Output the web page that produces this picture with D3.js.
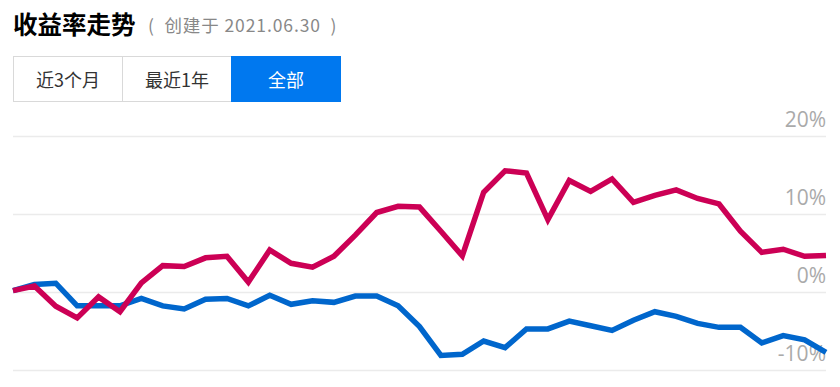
<!DOCTYPE html>
<html>
<head>
<meta charset="utf-8">
<script src="https://cdn.jsdelivr.net/npm/d3@7"></script>
<style>
  body { margin: 0; background: #fff; font-family: "Noto Sans CJK SC", "Noto Sans", sans-serif; }
</style>
</head>
<body>
<script>
// Daten
var tabs = ["近3个月", "最近1年", "全部"];
var activeTab = 2;
var yTicks = [-10, 0, 10, 20];
var fundReturn = [0.2, 0.8, -1.8, -3.3, -0.6, -2.5, 1.2, 3.4, 3.3, 4.4,
  4.6, 1.3, 5.4, 3.7, 3.2, 4.6, 7.3, 10.2, 11.0, 10.9,
  7.8, 4.65, 12.8, 15.55, 15.25, 9.3, 14.3, 12.9, 14.5, 11.5,
  12.4, 13.1, 12.0, 11.3, 7.8, 5.1, 5.5, 4.6, 4.7];
var benchReturn = [0.2, 1.0, 1.15, -1.75, -1.75, -1.75, -0.8, -1.75, -2.15, -0.9,
  -0.8, -1.75, -0.4, -1.55, -1.1, -1.3, -0.5, -0.5, -1.75, -4.4,
  -8.1, -7.95, -6.25, -7.1, -4.7, -4.7, -3.7, -4.3, -4.9, -3.6,
  -2.5, -3.1, -4.0, -4.5, -4.5, -6.5, -5.55, -6.1, -7.7];

var W = 840, H = 387;
var svg = d3.select("body").append("svg")
  .attr("width", W)
  .attr("height", H);

// Titel
svg.append("text")
  .attr("x", 13).attr("y", 34)
  .attr("font-size", "24.5px").attr("font-weight", "bold")
  .attr("fill", "#000")
  .text("收益率走势");

svg.append("text")
  .attr("x", 148).attr("y", 32)
  .attr("font-size", "17.5px")
  .attr("letter-spacing", "0.9px")
  .attr("fill", "#888")
  .attr("xml:space", "preserve")
  .text("(  创建于 2021.06.30  )");

// Buttons
var btn = svg.selectAll("g.tab")
  .data(tabs)
  .enter()
  .append("g")
  .attr("class", "tab")
  .attr("transform", function(d, i) { return "translate(" + (13.5 + i * 109) + ",56.5)"; });

btn.append("rect")
  .attr("width", 109).attr("height", 45)
  .attr("fill", function(d, i) { return i == activeTab ? "#0078ef" : "#fff"; })
  .attr("stroke", function(d, i) { return i == activeTab ? "#0078ef" : "#d9d9d9"; });

btn.append("text")
  .attr("x", 54.5).attr("y", 30)
  .attr("text-anchor", "middle")
  .attr("font-size", "18px")
  .attr("fill", function(d, i) { return i == activeTab ? "#fff" : "#333"; })
  .text(function(d) { return d; });

// Skalen
var x = d3.scaleLinear()
  .domain([0, fundReturn.length - 1])
  .range([13, 826]);

var y = d3.scaleLinear()
  .domain([-10, 20])
  .range([370.3, 136]);

// Gitter
svg.append("g")
  .selectAll("line")
  .data(yTicks)
  .enter()
  .append("line")
  .attr("x1", 13).attr("x2", 826)
  .attr("y1", function(d) { return Math.round(y(d)) + 0.5; })
  .attr("y2", function(d) { return Math.round(y(d)) + 0.5; })
  .attr("stroke", "#ebebeb")
  .attr("stroke-width", 1.5);

var axis = svg.append("g")
  .attr("transform", "translate(826,0)")
  .call(d3.axisLeft(y).tickValues(yTicks).tickSize(0).tickFormat(function(d) { return d + "%"; }));
axis.select(".domain").remove();
axis.selectAll("text")
  .attr("x", 0)
  .attr("dy", "-0.45em")
  .attr("font-size", "21px")
  .attr("font-family", "\"Open Sans\", \"Noto Sans\", sans-serif")
  .attr("fill", "#aaa");

// Linien
var line = d3.line()
  .x(function(d, i) { return x(i); })
  .y(function(d) { return y(d); });

svg.append("path")
  .datum(benchReturn)
  .attr("d", line)
  .attr("fill", "none")
  .attr("stroke", "#0066cc")
  .attr("stroke-width", 5.5);

svg.append("path")
  .datum(fundReturn)
  .attr("d", line)
  .attr("fill", "none")
  .attr("stroke", "#cc0055")
  .attr("stroke-width", 5.5);
</script>
</body>
</html>
